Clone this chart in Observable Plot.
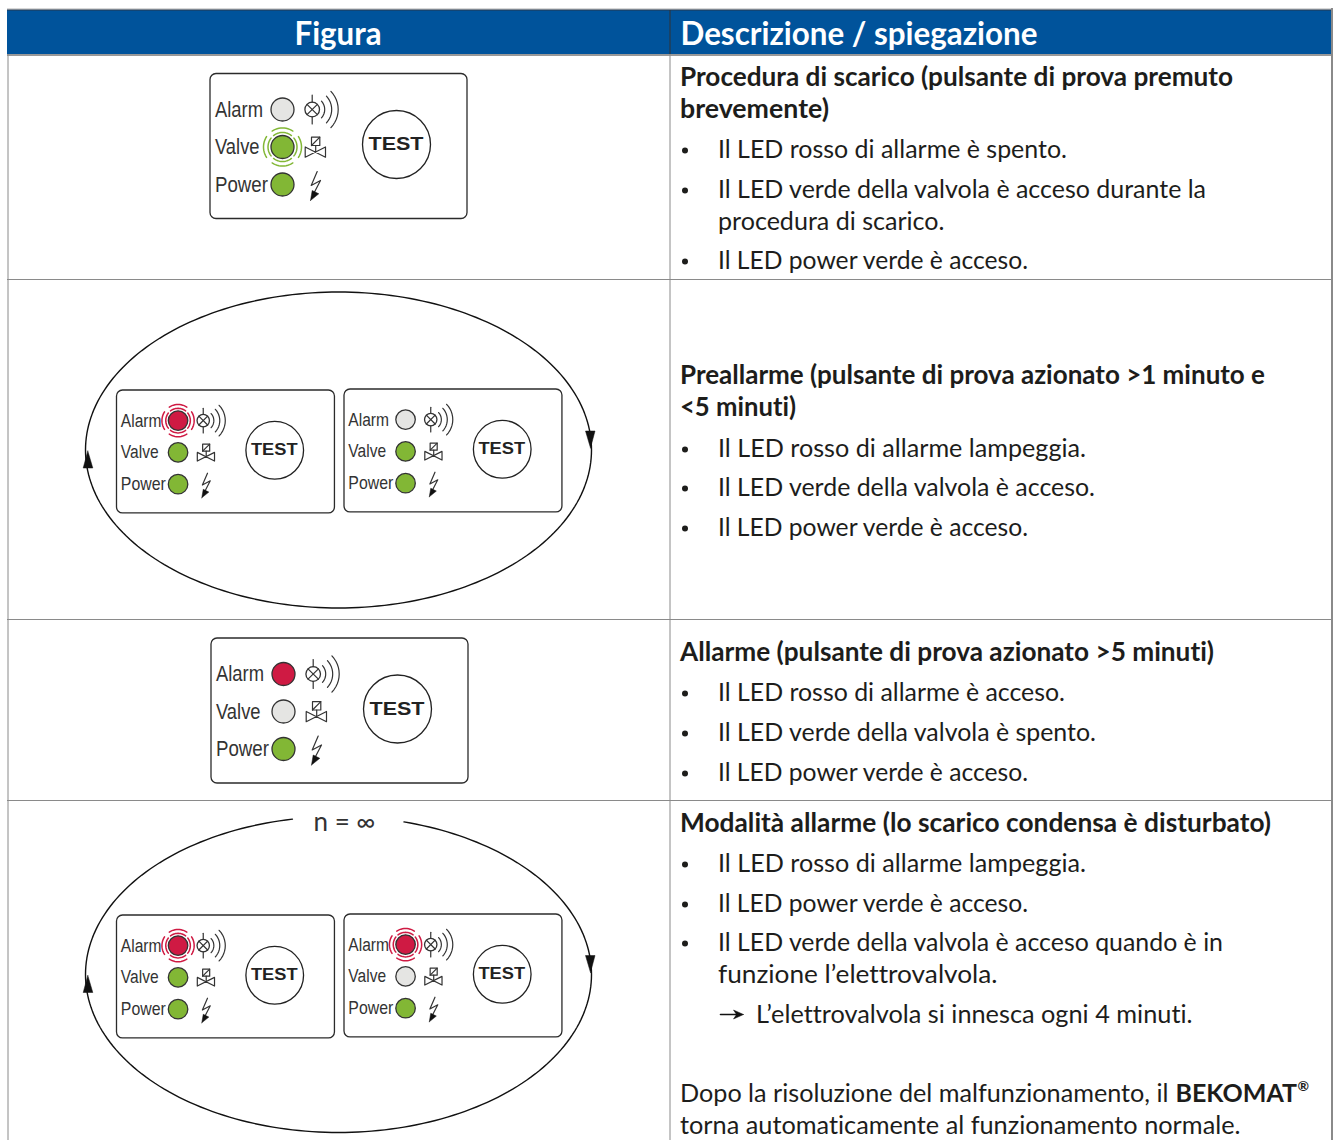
<!DOCTYPE html>
<html><head><meta charset="utf-8">
<style>html,body{margin:0;padding:0;background:#fff}svg{display:block}text{font-variant-ligatures:none}</style>
<script src="https://cdn.jsdelivr.net/npm/d3@7"></script>
<script src="https://cdn.jsdelivr.net/npm/@observablehq/plot@0.6"></script>
</head><body><script>
// ---- table text (content)
const headerTexts = ["Figura","Descrizione / spiegazione"];
const headingTexts = [
 "Procedura di scarico (pulsante di prova premuto","brevemente)",
 "Preallarme (pulsante di prova azionato >1 minuto e","<5 minuti)",
 "Allarme (pulsante di prova azionato >5 minuti)",
 "Modalità allarme (lo scarico condensa è disturbato)"
];
const bulletTexts = [
 "Il LED rosso di allarme è spento.","Il LED verde della valvola è acceso durante la","Il LED power verde è acceso.",
 "Il LED rosso di allarme lampeggia.","Il LED verde della valvola è acceso.","Il LED power verde è acceso.",
 "Il LED rosso di allarme è acceso.","Il LED verde della valvola è spento.","Il LED power verde è acceso.",
 "Il LED rosso di allarme lampeggia.","Il LED power verde è acceso.","Il LED verde della valvola è acceso quando è in"
];
const plainTexts = [
 "procedura di scarico.","funzione l’elettrovalvola.","L’elettrovalvola si innesca ogni 4 minuti.",
 "Dopo la risoluzione del malfunzionamento, il","torna automaticamente al funzionamento normale."
];
const ledNames = ["Alarm","Valve","Power"];
// LED states of each panel
const alarmStates = ["off","pulse","off","on","pulse","pulse"];
const valveStates = ["pulse","on","on","off","on","off"];
const powerStates = ["on","on","on","on","on","on"];

// ---- layout (kept apart from the content)
const layout = {
 headerX:[294,680], headerEnd:[381,1037],
 headingY:[77,109,375,407,652,823], headingEnd:[1233,829,1265,796,1214,1271],
 bulletY:[149,189,260,448,487,527,692,732,772,863,903,942],
 bulletEnd:[1067,1206,1028,1086,1095,1028,1065,1096,1028,1086,1028,1223],
 plainX:[717.5,717.5,755.5,679.5,679.5], plainY:[221,974,1014,1093,1125], plainEnd:[944,997,1192,1168,1240],
 rowLines:[279,619,800],
 panelX:[210,116.5,344,211,116.5,344], panelY:[73.5,390,389,638,915,914], panelS:[1,.848,.848,1,.848,.848],
 loopY:[449.5,974], loopGap:[false,true], cx:338, rx:253, ry:158,
 ledY:[35.5,73,110.5], labelW:[48,44.5,53], pw:257, ph:145
};
const colors = {blue:"#00539b",ink:"#2b2b2b",grey:"#8a8a8a",off:"#e5e5e3",green:"#82b735",red:"#cf1a43",text:"#1d1d1b"};

const headers = headerTexts.map((t,i)=>({t,x:layout.headerX[i],len:layout.headerEnd[i]-layout.headerX[i]}));
const headings = headingTexts.map((t,i)=>({t,y:layout.headingY[i],len:layout.headingEnd[i]-680}));
const bullets = bulletTexts.map((t,i)=>({t,y:layout.bulletY[i],len:layout.bulletEnd[i]-718}));
const plains = plainTexts.map((t,i)=>({t,x:layout.plainX[i],y:layout.plainY[i],len:layout.plainEnd[i]-layout.plainX[i]}));
const panels = layout.panelX.map((x,i)=>({x,y:layout.panelY[i],s:layout.panelS[i],alarm:alarmStates[i],valve:valveStates[i],power:powerStates[i]}));

const at = (p,lx,ly)=>({x:p.x+lx*p.s,y:p.y+ly*p.s});
const arc = (cx,cy,r,a0,a1)=>d3.range(0,13).map(i=>{const a=(a0+(a1-a0)*i/12)*Math.PI/180;return {x:cx+r*Math.cos(a),y:cy+r*Math.sin(a)};});

let zid=0; const thin=[], solid=[];
const push=(arr,pts)=>{const z=zid++;pts.forEach(q=>arr.push({...q,z}));};
const labels=[],tests=[],circles=[],rings=[];
panels.forEach(p=>{
  ledNames.forEach((n,i)=>{
    const state=p[n.toLowerCase()], c=at(p,72,layout.ledY[i]), col=i===0?colors.red:colors.green;
    labels.push({...at(p,4.5,layout.ledY[i]),t:n,size:22*p.s,len:layout.labelW[i]*p.s});
    circles.push({...c,r:11.5*p.s,fill:state==="off"?colors.off:col});
    if(state==="pulse"){
      [[14.5,38],[19,33]].forEach(([r,h])=>[0,90,180,270].forEach(d=>{
        const z=zid++;
        arc(c.x,c.y,r*p.s,d-h,d+h).forEach(q=>rings.push({...q,z,col}));
      }));
    }
  });
  // lamp + sound waves
  const l=at(p,101.7,35.5);
  circles.push({...l,r:7.3*p.s,fill:"none"});
  const k=5.2*p.s;
  push(thin,[{x:l.x-k,y:l.y-k},{x:l.x+k,y:l.y+k}]);
  push(thin,[{x:l.x+k,y:l.y-k},{x:l.x-k,y:l.y+k}]);
  push(thin,[at(p,101.7,21),at(p,101.7,28.2)]);
  push(thin,[at(p,101.7,42.8),at(p,101.7,50)]);
  [[12.5,42],[19.5,43],[26,44]].forEach(([r,h])=>push(thin,arc(l.x,l.y,r*p.s,-h,h)));
  // valve
  push(thin,[[101,63.2],[109.3,63.2],[109.3,71.5],[101,71.5],[101,63.2]].map(q=>at(p,...q)));
  push(thin,[at(p,101,71.5),at(p,109.3,63.2)]);
  push(thin,[at(p,105.2,71.5),at(p,105.2,78)]);
  push(thin,[[94.7,73],[94.7,83.2],[115,73],[115,83.2],[94.7,73]].map(q=>at(p,...q)));
  // bolt
  push(thin,[[106.7,97.5],[100.7,111.5],[110,106.5],[103.5,119]].map(q=>at(p,...q)));
  push(solid,[[100,126.5],[101.7,116.5],[108.3,119.8],[100,126.5]].map(q=>at(p,...q)));
  // TEST button
  tests.push({...at(p,186,70.5),r:34*p.s,size:19*p.s,len:55*p.s});
});
// loops with arrowheads
const loopPts=[];
layout.loopY.forEach((cy,i)=>{
  d3.range(-90,270.5,1.5).forEach(deg=>{
    const a=deg*Math.PI/180, x=layout.cx+layout.rx*Math.cos(a), y=cy+layout.ry*Math.sin(a);
    if(layout.loopGap[i] && y<cy && x>292 && x<400) return;
    loopPts.push({x,y,z:"L"+i});
  });
  push(solid,[{x:590,y:cy-2},{x:585,y:cy-19},{x:594.5,y:cy-19},{x:590,y:cy-2}]);
  push(solid,[{x:87.3,y:cy+1},{x:82.7,y:cy+18},{x:92.3,y:cy+18},{x:87.3,y:cy+1}]);
});
// arrow in explanatory line
push(solid,[{x:743,y:1014},{x:733,y:1009.5},{x:736,y:1014},{x:733,y:1018.5},{x:743,y:1014}]);
const arrowShaft=[{x:720,y:1014,z:0},{x:737,y:1014,z:0}];

const F="Lato, 'Open Sans', sans-serif", A="'Liberation Sans',sans-serif";
const X=d=>d.x,Y=d=>d.y;
const svg=Plot.plot({
  width:1336,height:1140,margin:0,
  x:{type:"identity",axis:null},y:{type:"identity",axis:null},r:{type:"identity"},
  style:{background:"#fff"},
  marks:[
    // table
    Plot.rect([{}],{x1:()=>7,x2:()=>1331,y1:()=>10,y2:()=>54,fill:colors.blue}),
    Plot.ruleY([8.5],{y:d=>d,x1:()=>7,x2:()=>1331,stroke:"#b0b0b0",strokeWidth:1}),
    Plot.ruleY([9.5],{y:d=>d,x1:()=>7,x2:()=>1331,stroke:"#26384f",strokeWidth:1}),
    Plot.ruleY([54.5],{y:d=>d,x1:()=>7,x2:()=>1331,stroke:"#333",strokeWidth:1}),
    Plot.ruleY(layout.rowLines,{y:d=>d,x1:()=>7,x2:()=>1331,stroke:colors.grey,strokeWidth:1}),
    Plot.ruleX([7.5],{x:d=>d,y1:()=>54,y2:()=>1140,stroke:colors.grey,strokeWidth:1}),
    Plot.ruleX([669.5],{x:d=>d,y1:()=>54,y2:()=>1140,stroke:colors.grey,strokeWidth:1}),
    Plot.ruleX([669.5],{x:d=>d,y1:()=>10,y2:()=>54,stroke:"#333",strokeWidth:1}),
    Plot.ruleX([1331.5],{x:d=>d,y1:()=>8,y2:()=>1140,stroke:colors.grey,strokeWidth:2}),
    Plot.text(headers,{x:X,y:()=>34,text:"t",textAnchor:"start",fill:"#fff",fontFamily:F,fontWeight:700,fontSize:32,className:"fit"}),
    // panels
    Plot.rect(panels,{x1:X,y1:Y,x2:d=>d.x+layout.pw*d.s,y2:d=>d.y+layout.ph*d.s,rx:6,fill:"#fff",stroke:colors.ink,strokeWidth:1.3}),
    Plot.line(loopPts,{x:X,y:Y,z:"z",stroke:"#111",strokeWidth:1.4}),
    Plot.line(rings,{x:X,y:Y,z:"z",stroke:"col",strokeWidth:1.5}),
    Plot.dot(circles,{x:X,y:Y,r:"r",fill:"fill",stroke:"#333",strokeWidth:1.3}),
    Plot.line(thin,{x:X,y:Y,z:"z",stroke:"#333",strokeWidth:1.2}),
    Plot.line(arrowShaft,{x:X,y:Y,z:"z",stroke:"#111",strokeWidth:1.6}),
    Plot.line(solid,{x:X,y:Y,z:"z",stroke:"#111",strokeWidth:.5,fill:"#111"}),
    Plot.dot(tests,{x:X,y:Y,r:"r",fill:"none",stroke:"#222",strokeWidth:1.3}),
    Plot.text(tests,{x:d=>d.x-.5,y:d=>d.y-.5,text:()=>"TEST",fontFamily:A,fontWeight:700,fontSize:d=>d.size,fill:"#222",className:"fit"}),
    Plot.text(labels,{x:X,y:Y,text:"t",textAnchor:"start",fontFamily:A,fontSize:d=>d.size,fill:"#333",className:"fit"}),
    Plot.text(["n = ∞"],{x:()=>344,y:()=>822,text:d=>d,fontFamily:F,fontSize:26,fill:"#333"}),
    // description
    Plot.text(headings,{x:()=>679.5,y:Y,text:"t",textAnchor:"start",fontFamily:F,fontWeight:700,fontSize:26,fill:colors.text,className:"fit"}),
    Plot.dot(bullets,{x:()=>684.5,y:d=>d.y+1,r:()=>3,fill:colors.text}),
    Plot.text(bullets,{x:()=>717.5,y:Y,text:"t",textAnchor:"start",fontFamily:F,fontSize:25,fill:colors.text,className:"fit"}),
    Plot.text(plains,{x:X,y:Y,text:"t",textAnchor:"start",fontFamily:F,fontSize:25,fill:colors.text,className:"fit"}),
    Plot.text(["BEKOMAT"],{x:()=>1175,y:()=>1093,text:d=>d,textAnchor:"start",fontFamily:F,fontWeight:700,fontSize:25,fill:colors.text}),
    Plot.text(["®"],{x:()=>1297,y:()=>1086,text:d=>d,textAnchor:"start",fontFamily:F,fontWeight:700,fontSize:14,fill:colors.text})
  ]
});
// stretch each line of text to the width it has in the reference
const fitLens=[headers,tests,labels,headings,bullets,plains];
d3.select(svg).selectAll("g.fit").each(function(_,gi){
  const arr=fitLens[gi];
  d3.select(this).selectAll("text").each(function(d,i){
    this.setAttribute("textLength",arr[i].len);
    this.setAttribute("lengthAdjust","spacingAndGlyphs");
  });
});
document.body.appendChild(svg);
</script></body></html>
